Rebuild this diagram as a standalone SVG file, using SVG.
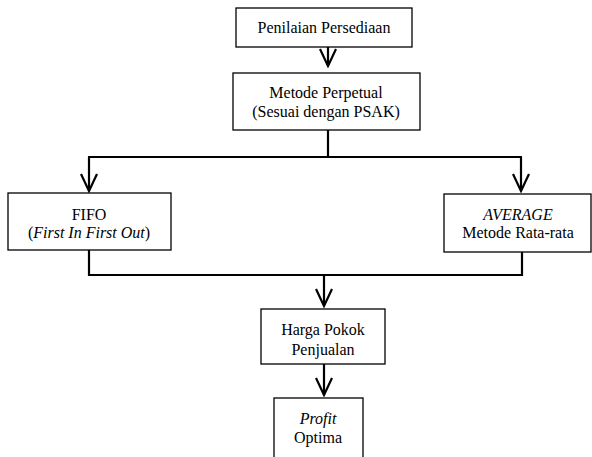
<svg xmlns="http://www.w3.org/2000/svg" width="592" height="457" viewBox="0 0 592 457">
<style>
.box{fill:#fff;stroke:#000;stroke-width:1.3}
.t{font-family:'Liberation Serif','Times New Roman',Times,serif;font-size:16px;fill:#000;text-anchor:middle}
.i{font-style:italic}
.c{fill:none;stroke:#000;stroke-width:2.2}
</style>
<defs>
<marker id="v" viewBox="0 0 20 20" refX="18" refY="10" markerWidth="20" markerHeight="20" markerUnits="userSpaceOnUse" orient="auto">
<path d="M1,2 L18,10 L1,18" fill="none" stroke="#000" stroke-width="2.2"/>
</marker>
</defs>
<rect width="592" height="457" fill="#fff"/>
<g id="connectors">
<line class="c" x1="328" y1="47" x2="328" y2="66" marker-end="url(#v)"/>
<line class="c" x1="328" y1="130" x2="328" y2="157"/>
<line class="c" x1="88" y1="157" x2="522" y2="157"/>
<line class="c" x1="89" y1="157" x2="89" y2="191" marker-end="url(#v)"/>
<line class="c" x1="521" y1="157" x2="521" y2="191" marker-end="url(#v)"/>
<line class="c" x1="89" y1="250" x2="89" y2="276"/>
<line class="c" x1="522" y1="252" x2="522" y2="276"/>
<line class="c" x1="88" y1="275" x2="523" y2="275"/>
<line class="c" x1="324" y1="275" x2="324" y2="306" marker-end="url(#v)"/>
<line class="c" x1="324" y1="364" x2="324" y2="395" marker-end="url(#v)"/>
</g>
<g id="n1">
<rect class="box" x="236" y="8" width="176" height="39"/>
<text class="t" x="324" y="33">Penilaian Persediaan</text>
</g>
<g id="n2">
<rect class="box" x="233" y="73" width="187" height="57"/>
<text class="t" x="326" y="98">Metode Perpetual</text>
<text class="t" x="326" y="117">(Sesuai dengan PSAK)</text>
</g>
<g id="n3">
<rect class="box" x="8" y="193" width="163" height="57"/>
<text class="t" x="89" y="220">FIFO</text>
<text class="t" x="89" y="238">(<tspan class="i">First In First Out</tspan>)</text>
</g>
<g id="n4">
<rect class="box" x="444" y="194" width="147" height="58"/>
<text class="t i" x="518" y="220">AVERAGE</text>
<text class="t" x="518" y="238">Metode Rata-rata</text>
</g>
<g id="n5">
<rect class="box" x="261" y="309" width="124" height="55"/>
<text class="t" x="323" y="335">Harga Pokok</text>
<text class="t" x="323" y="355">Penjualan</text>
</g>
<g id="n6">
<rect class="box" x="274" y="398" width="89" height="70"/>
<text class="t i" x="318" y="424">Profit</text>
<text class="t" x="318" y="443">Optima</text>
</g>
</svg>
